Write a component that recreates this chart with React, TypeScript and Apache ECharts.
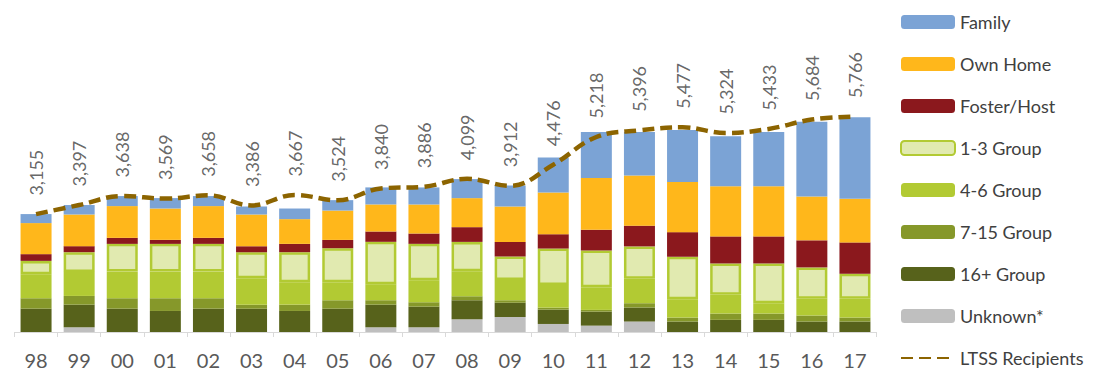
import React, { useEffect, useRef } from "react";
import * as echarts from "echarts";

const categories = ["98", "99", "00", "01", "02", "03", "04", "05", "06", "07", "08", "09", "10", "11", "12", "13", "14", "15", "16", "17"];

const unknown = [0, 126, 0, 0, 0, 0, 0, 0, 126, 126, 340, 402, 215, 170, 280, 0, 0, 0, 0, 0];
const group16 = [624, 606, 624, 563, 624, 624, 563, 624, 606, 552, 509, 383, 383, 375, 375, 280, 325, 325, 280, 280];
const group7to15 = [279, 233, 279, 340, 279, 107, 169, 225, 118, 118, 107, 64, 54, 46, 115, 107, 169, 169, 161, 107];
const group4to6 = [643, 643, 713, 713, 713, 708, 600, 482, 429, 590, 670, 544, 608, 606, 654, 490, 501, 276, 448, 501];
const group1to3 = [357, 528, 742, 742, 742, 697, 804, 911, 1134, 973, 785, 624, 973, 984, 866, 1136, 839, 1064, 839, 670];
const fosterHost = [180, 161, 161, 107, 161, 161, 222, 222, 276, 276, 394, 394, 383, 555, 555, 659, 724, 724, 724, 839];
const ownHome = [831, 847, 850, 839, 850, 847, 662, 785, 724, 777, 777, 946, 1118, 1383, 1340, 1340, 1340, 1340, 1171, 1171];
const family = [241, 253, 268, 279, 268, 214, 284, 279, 456, 456, 509, 563, 938, 1233, 1168, 1394, 1340, 1455, 2000, 2179];
const ltssRecipients = [3155, 3397, 3638, 3569, 3658, 3386, 3667, 3524, 3840, 3886, 4099, 3912, 4476, 5218, 5396, 5477, 5324, 5433, 5684, 5766];

const barLegend = ["Family", "Own Home", "Foster/Host", "1-3 Group", "4-6 Group", "7-15 Group", "16+ Group", "Unknown*"];

const FONT = "Lato, 'Noto Sans', sans-serif";
const LINE_COLOR = "#8C6400";

export default function App() {
  const ref = useRef<HTMLDivElement>(null);

  useEffect(() => {
    if (!ref.current) return;
    const chart = echarts.init(ref.current, undefined, { renderer: "svg" });

    const bar = (name: string, data: number[], color: string, extra: any = {}) => ({
      name,
      type: "bar",
      stack: "total",
      data,
      barWidth: 31,
      itemStyle: { color, ...extra },
      emphasis: { disabled: true },
    });

    chart.setOption({
      animation: false,
      textStyle: { fontFamily: FONT },
      grid: { left: 14.5, right: 235.5, top: 33, bottom: 50, containLabel: false },
      legend: {
        orient: "vertical",
        left: 900,
        top: 12,
        padding: 0,
        itemWidth: 54,
        itemHeight: 14,
        itemGap: 22,
        data: [
          ...barLegend,
          { name: "LTSS Recipients", itemStyle: { opacity: 0 } },
        ],
        textStyle: { color: "#404040", fontSize: 18, lineHeight: 20, fontFamily: FONT },
        selectedMode: false,
      },
      xAxis: {
        type: "category",
        data: categories,
        axisLine: { lineStyle: { color: "#D9D9D9", width: 1 } },
        axisTick: { show: true, length: 5, lineStyle: { color: "#D9D9D9" } },
        axisLabel: { color: "#595959", fontSize: 20, margin: 18, fontFamily: FONT },
      },
      yAxis: {
        type: "value",
        min: 0,
        max: 8000,
        show: false,
        splitLine: { show: false },
      },
      series: [
        bar("Unknown*", unknown, "#BFBFBF"),
        bar("16+ Group", group16, "#57621B"),
        bar("7-15 Group", group7to15, "#86982A"),
        bar("4-6 Group", group4to6, "#B2CA33"),
        bar("1-3 Group", group1to3, "#E1EAB0", { borderColor: "#B2CA33", borderWidth: 2.5 }),
        bar("Foster/Host", fosterHost, "#8B181D"),
        bar("Own Home", ownHome, "#FFB71B"),
        bar("Family", family, "#7BA3D5"),
        {
          name: "LTSS Recipients",
          type: "line",
          data: ltssRecipients,
          smooth: 0.4,
          symbol: "none",
          z: 5,
          lineStyle: { color: LINE_COLOR, width: 4.5, type: [12, 6] },
          itemStyle: { color: LINE_COLOR },
          emphasis: { disabled: true },
        },
        {
          name: "LTSS labels",
          type: "scatter",
          data: ltssRecipients,
          symbolSize: 1,
          z: 6,
          itemStyle: { color: "rgba(0,0,0,0)" },
          emphasis: { disabled: true },
          silent: true,
          label: {
            show: true,
            position: "top",
            rotate: 90,
            align: "left",
            verticalAlign: "middle",
            distance: 18,
            color: "#404040",
            fontSize: 18,
            fontFamily: FONT,
            formatter: (p: any) => Number(p.value).toLocaleString("en-US"),
          },
        },
      ],
    });

    return () => chart.dispose();
  }, []);

  return (
    <div
      ref={ref}
      style={{ position: "fixed", left: 0, top: 0, width: 1112, height: 382, background: "#FFFFFF" }}
    />
  );
}
